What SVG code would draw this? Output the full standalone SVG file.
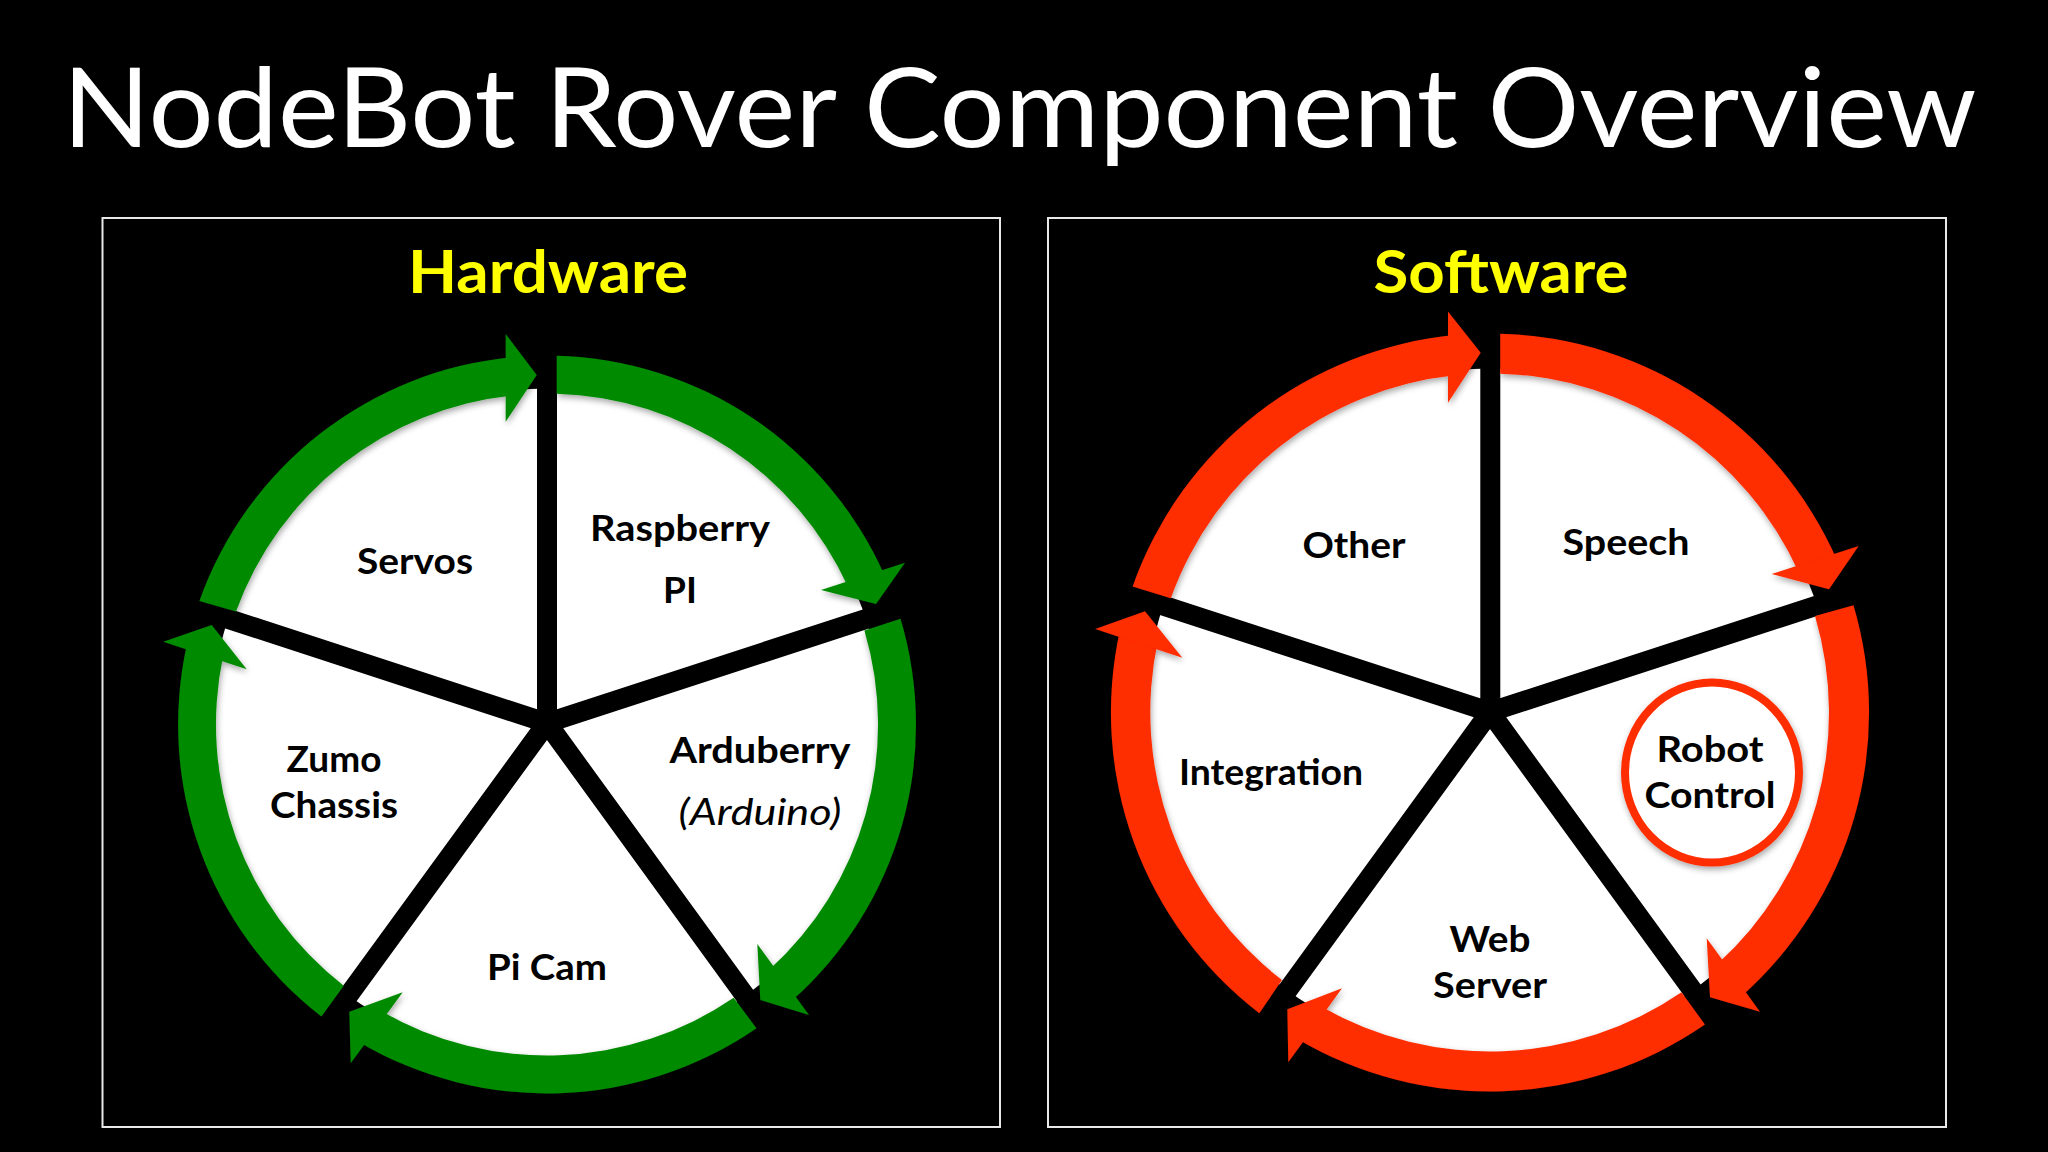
<svg xmlns="http://www.w3.org/2000/svg" width="2048" height="1152" viewBox="0 0 2048 1152">
<defs>
<filter id="sh" x="-10%" y="-10%" width="120%" height="120%"><feDropShadow dx="1" dy="3" stdDeviation="3" flood-color="#000" flood-opacity="0.35"/></filter>
</defs>
<style>
.panel{fill:none;stroke:#e8e8e8;stroke-width:2}
.t{font-family:"Lato","Liberation Sans",sans-serif;text-anchor:middle}
.title{font-size:111px;fill:#fff}
.head{font-size:60px;font-weight:700;fill:#ffff00}
.lab{font-size:37px;font-weight:700;fill:#000}
.it{font-size:37px;font-style:italic;fill:#000}
.w{fill:#fff}
.g{fill:#068a03}
.r{fill:#ff2d00}
.sp{stroke:#000;stroke-width:20;fill:none}
</style>
<rect width="2048" height="1152" fill="#000"/>
<text id="title" class="t title" x="1019.500" y="147" textLength="1914" lengthAdjust="spacingAndGlyphs">NodeBot Rover Component Overview</text>
<rect class="panel" x="102.500" y="218" width="897.500" height="909"/>
<rect class="panel" x="1048" y="218" width="898" height="909"/>
<text class="t head" x="548" y="293" textLength="280" lengthAdjust="spacingAndGlyphs">Hardware</text>
<text class="t head" x="1501" y="293" textLength="255" lengthAdjust="spacingAndGlyphs">Software</text>

<g id="hw-disc"><circle class="w" cx="547" cy="724.500" r="336"/></g>
<g id="hw-spokes" class="sp">
<path d="M547 723V340M547 723L915 603M547 723L770 1030M547 723L321 1033M547 723L190 606.400"/>
</g>
<g id="hw-connectors" class="g" filter="url(#sh)">
<path d="M556.700 355.630A369 369 0 0 1 884.300 574.900L847.900 586.600A331 331 0 0 0 556.700 393.640Z"/>
<path d="M900.500 618.800A369 369 0 0 1 791.600 1000.800L768.900 970.100A331 331 0 0 0 864.400 630.400Z"/>
<path d="M756.500 1028.200A369 369 0 0 1 358.900 1041.900L381.200 1011A331 331 0 0 0 733.700 997.800Z"/>
<path d="M321.400 1016.500A369 369 0 0 1 187 644L223.200 655.600A331 331 0 0 0 343.700 985.700Z"/>
<path d="M199.400 600.900A369 369 0 0 1 512 357.200L512 395.400A331 331 0 0 0 236 611.400Z"/>
<path d="M905 562.700L876 604L821 590Z"/>
<path d="M757.300 944L760.300 1000L809 1015Z"/>
<path d="M402.700 992.300L349.300 1011.700L350.700 1063.300Z"/>
<path d="M163.300 641.700L211.700 625L246.700 669.300Z"/>
<path d="M505.700 334L536.700 375L505.700 421.700Z"/>
</g>

<g id="sw-disc"><circle class="w" cx="1490" cy="712.500" r="344"/></g>
<g id="sw-spokes" class="sp">
<path d="M1490.300 712V310M1490 712L1880 585M1490 712L1725 1035M1490 712L1255 1035M1490 712L1100 585"/>
</g>
<g id="sw-connectors" class="r" filter="url(#sh)">
<path d="M1500.200 333.640A379 379 0 0 1 1837 560L1798.700 572.200A339 339 0 0 0 1500.200 373.650Z"/>
<path d="M1853.500 605.200A379 379 0 0 1 1741.300 996.400L1717.600 963.700A339 339 0 0 0 1815 616Z"/>
<path d="M1704.900 1024.600A379 379 0 0 1 1297 1038.700L1321.200 1006.500A339 339 0 0 0 1681.500 992.200Z"/>
<path d="M1259.300 1013.200A379 379 0 0 1 1120 630L1158 640A339 339 0 0 0 1281.900 980.100Z"/>
<path d="M1132.600 586.400A379 379 0 0 1 1455 335.100L1455 375.300A339 339 0 0 0 1170.800 598.200Z"/>
<path d="M1858.700 546L1829 589.300L1771.700 574Z"/>
<path d="M1706.700 938.300L1710 997.300L1760 1011.700Z"/>
<path d="M1342 988.300L1287.300 1009.300L1288.300 1062.300Z"/>
<path d="M1095.200 628.900L1145 611.300L1182.300 657.700Z"/>
<path d="M1448 311.600L1480.700 352.800L1448 402.700Z"/>
</g>

<g id="node-raspberry-pi"><text class="t lab" x="680" y="541" textLength="180" lengthAdjust="spacingAndGlyphs">Raspberry</text><text class="t lab" x="680" y="603">PI</text></g>
<g id="node-arduberry"><text class="t lab" x="760" y="763" textLength="181" lengthAdjust="spacingAndGlyphs">Arduberry</text><text class="t it" x="760" y="825" textLength="163" lengthAdjust="spacingAndGlyphs">(Arduino)</text></g>
<g id="node-pi-cam"><text class="t lab" x="547" y="980" textLength="120" lengthAdjust="spacingAndGlyphs">Pi Cam</text></g>
<g id="node-zumo-chassis"><text class="t lab" x="334" y="772">Zumo</text><text class="t lab" x="334" y="818" textLength="128" lengthAdjust="spacingAndGlyphs">Chassis</text></g>
<g id="node-servos"><text class="t lab" x="415" y="574" textLength="116" lengthAdjust="spacingAndGlyphs">Servos</text></g>

<g id="node-speech"><text class="t lab" x="1626" y="555" textLength="127" lengthAdjust="spacingAndGlyphs">Speech</text></g>
<g id="node-robot-control"><ellipse cx="1712" cy="772.500" rx="87" ry="90" fill="#fff" stroke="#ff2d00" stroke-width="8" filter="url(#sh)"/><text class="t lab" x="1710" y="762" textLength="107" lengthAdjust="spacingAndGlyphs">Robot</text><text class="t lab" x="1710" y="808" textLength="131" lengthAdjust="spacingAndGlyphs">Control</text></g>
<g id="node-web-server"><text class="t lab" x="1490" y="952" textLength="81" lengthAdjust="spacingAndGlyphs">Web</text><text class="t lab" x="1490" y="998" textLength="114" lengthAdjust="spacingAndGlyphs">Server</text></g>
<g id="node-integration"><text class="t lab" x="1271" y="785" textLength="184" lengthAdjust="spacingAndGlyphs">Integration</text></g>
<g id="node-other"><text class="t lab" x="1354" y="558" textLength="103" lengthAdjust="spacingAndGlyphs">Other</text></g>
</svg>
